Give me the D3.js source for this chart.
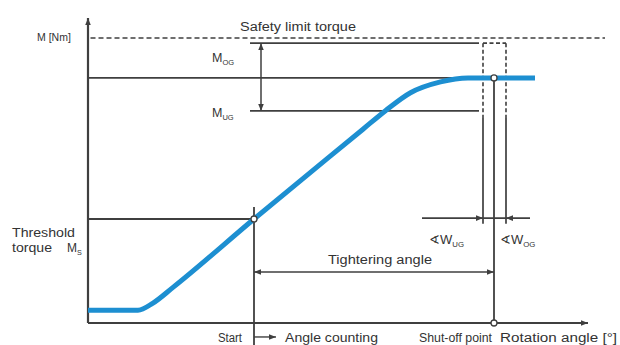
<!DOCTYPE html>
<html>
<head>
<meta charset="utf-8">
<script src="https://cdn.jsdelivr.net/npm/d3@7"></script>
<style>
  html, body { margin: 0; padding: 0; background: #fff; }
  svg text { font-family: "Liberation Sans", Arial, sans-serif; fill: #333; }
</style>
</head>
<body>
<svg id="chart" width="620" height="345"></svg>
<script>
// Tightening curve: torque (% of safety limit) over rotation angle (% of axis)
const curveAngle  = [0, 10, 13, 17, 33.2, 55, 59.5, 64.5, 70.5, 76, 81.2, 89.4];
const curveTorque = [4.5, 4.5, 7, 12.5, 36.5, 68, 74.5, 80.8, 84.6, 86, 86, 86];

// Characteristic torque levels
const torqueLevels = { safety: 100, upper: 98.2, shutoff: 86, lower: 74.4, threshold: 36.5 };
// Characteristic angles
const angleMarks = { start: 33.2, shutoff: 81.2, wUG: 79, wOG: 83.6 };

const svg = d3.select("#chart");
const x = d3.scaleLinear().domain([0, 100]).range([88, 588]);
const y = d3.scaleLinear().domain([0, 100]).range([323, 38]);

const ink = "#3f3f3f";
const defs = svg.append("defs");
function marker(id, path, refX) {
  defs.append("marker").attr("id", id)
    .attr("viewBox", "0 0 10 10").attr("refX", refX).attr("refY", 5)
    .attr("markerWidth", 7).attr("markerHeight", 7)
    .attr("markerUnits", "userSpaceOnUse")
    .attr("orient", "auto")
    .append("path").attr("d", path).attr("fill", ink);
}
marker("arrow", "M0,1 L10,5 L0,9 Z", 10);
marker("arrowStart", "M10,1 L0,5 L10,9 Z", 0);

function line(x1, y1, x2, y2, opts = {}) {
  const l = svg.append("line")
    .attr("x1", x1).attr("y1", y1).attr("x2", x2).attr("y2", y2)
    .attr("stroke", opts.color || ink)
    .attr("stroke-width", opts.w || 1.8);
  if (opts.dash) l.attr("stroke-dasharray", opts.dash);
  if (opts.end) l.attr("marker-end", "url(#arrow)");
  if (opts.start) l.attr("marker-start", "url(#arrowStart)");
  return l;
}

// Axes
line(x(0), y(0), x(100), y(0), { w: 2.2, end: true });
line(x(0), y(0), x(0), y(107), { w: 2.2, end: true });

// Safety limit torque
line(x(0.5), y(torqueLevels.safety), x(103.4), y(torqueLevels.safety), { dash: "5,3", w: 1.6 });

// Upper / lower torque limits
line(x(32.4), y(torqueLevels.upper), x(78.2), y(torqueLevels.upper));
line(x(32.4), y(torqueLevels.lower), x(78.2), y(torqueLevels.lower));
// Shut-off torque level
line(x(0), y(torqueLevels.shutoff), x(angleMarks.shutoff), y(torqueLevels.shutoff));
// Threshold torque level
line(x(0), y(torqueLevels.threshold), x(angleMarks.start), y(torqueLevels.threshold));

// Torque tolerance arrow
line(x(34.6), y(torqueLevels.lower), x(34.6), y(torqueLevels.upper), { end: true, start: true, w: 1.5 });

// Angle window: dashed box above the lower limit, solid below
const wLevel = 36.8;
[angleMarks.wUG, angleMarks.wOG].forEach(a => {
  line(x(a), y(torqueLevels.upper), x(a), y(71.9), { dash: "4,2.5", w: 1.6 });
  line(x(a), y(71.9), x(a), y(wLevel - 2), { w: 1.7 });
});
line(x(angleMarks.wUG), y(torqueLevels.upper), x(angleMarks.wOG), y(torqueLevels.upper), { dash: "4,2.5", w: 1.6 });
line(x(66.8), y(wLevel), x(88.4), y(wLevel), { w: 1.8 });
line(x(72), y(wLevel), x(angleMarks.wUG), y(wLevel), { end: true, w: 0.01 });
line(x(90), y(wLevel), x(angleMarks.wOG), y(wLevel), { end: true, w: 0.01 });

// Start and shut-off verticals
line(x(angleMarks.start), y(40.7), x(angleMarks.start), 345);
line(x(angleMarks.shutoff), y(torqueLevels.shutoff), x(angleMarks.shutoff), y(0));

// Tightening angle arrow
const tighten = 17.9;
line(x(angleMarks.start), y(tighten), x(angleMarks.shutoff), y(tighten), { end: true, start: true, w: 1.6 });
// Angle counting arrow
line(x(angleMarks.start), y(-4.9), x(angleMarks.start + 4.4), y(-4.9), { end: true, w: 1.4 });

// Tightening curve
const pts = curveAngle.map((a, i) => [x(a), y(curveTorque[i])]);
svg.append("path")
  .attr("d", d3.line().curve(d3.curveMonotoneX)(pts))
  .attr("fill", "none").attr("stroke", "#1d8fd1")
  .attr("stroke-width", 5).attr("stroke-linecap", "butt");

// Marker points
[[angleMarks.start, torqueLevels.threshold], [angleMarks.shutoff, torqueLevels.shutoff], [angleMarks.shutoff, 0]]
  .forEach(([a, t]) => svg.append("circle")
    .attr("cx", x(a)).attr("cy", y(t)).attr("r", 3)
    .attr("fill", "#fff").attr("stroke", ink).attr("stroke-width", 1.3));

// Labels
function text(tx, ty, s, size = 12, anchor = "start", len = null) {
  const t = svg.append("text").attr("x", tx).attr("y", ty)
    .attr("font-size", size).attr("text-anchor", anchor).text(s);
  if (len) t.attr("textLength", len).attr("lengthAdjust", "spacingAndGlyphs");
  return t;
}
function subLabel(tx, ty, main, sub, size = 12) {
  const t = text(tx, ty, main, size);
  t.append("tspan").attr("font-size", size * 0.6).attr("dy", 3).text(sub);
  return t;
}
text(37, 41, "M [Nm]", 10.5);
text(240, 31, "Safety limit torque", 12.5, "start", 116);
subLabel(212, 62, "M", "OG", 12.5);
subLabel(212, 117, "M", "UG", 12.5);
text(12, 237, "Threshold", 12, "start", 63);
text(12, 252, "torque", 12, "start", 40);
subLabel(67, 252, "M", "S", 12);
text(328, 264, "Tightering angle", 12.5, "start", 104);
subLabel(429, 244, "\u2222W", "UG", 13);
subLabel(500, 244, "\u2222W", "OG", 13);
text(218, 342, "Start", 12, "start", 24);
text(285, 342, "Angle counting", 12.5, "start", 93);
text(419, 342, "Shut-off point", 13, "start", 73);
text(500, 342, "Rotation angle [°]", 12.5, "start", 117);
</script>
</body>
</html>
